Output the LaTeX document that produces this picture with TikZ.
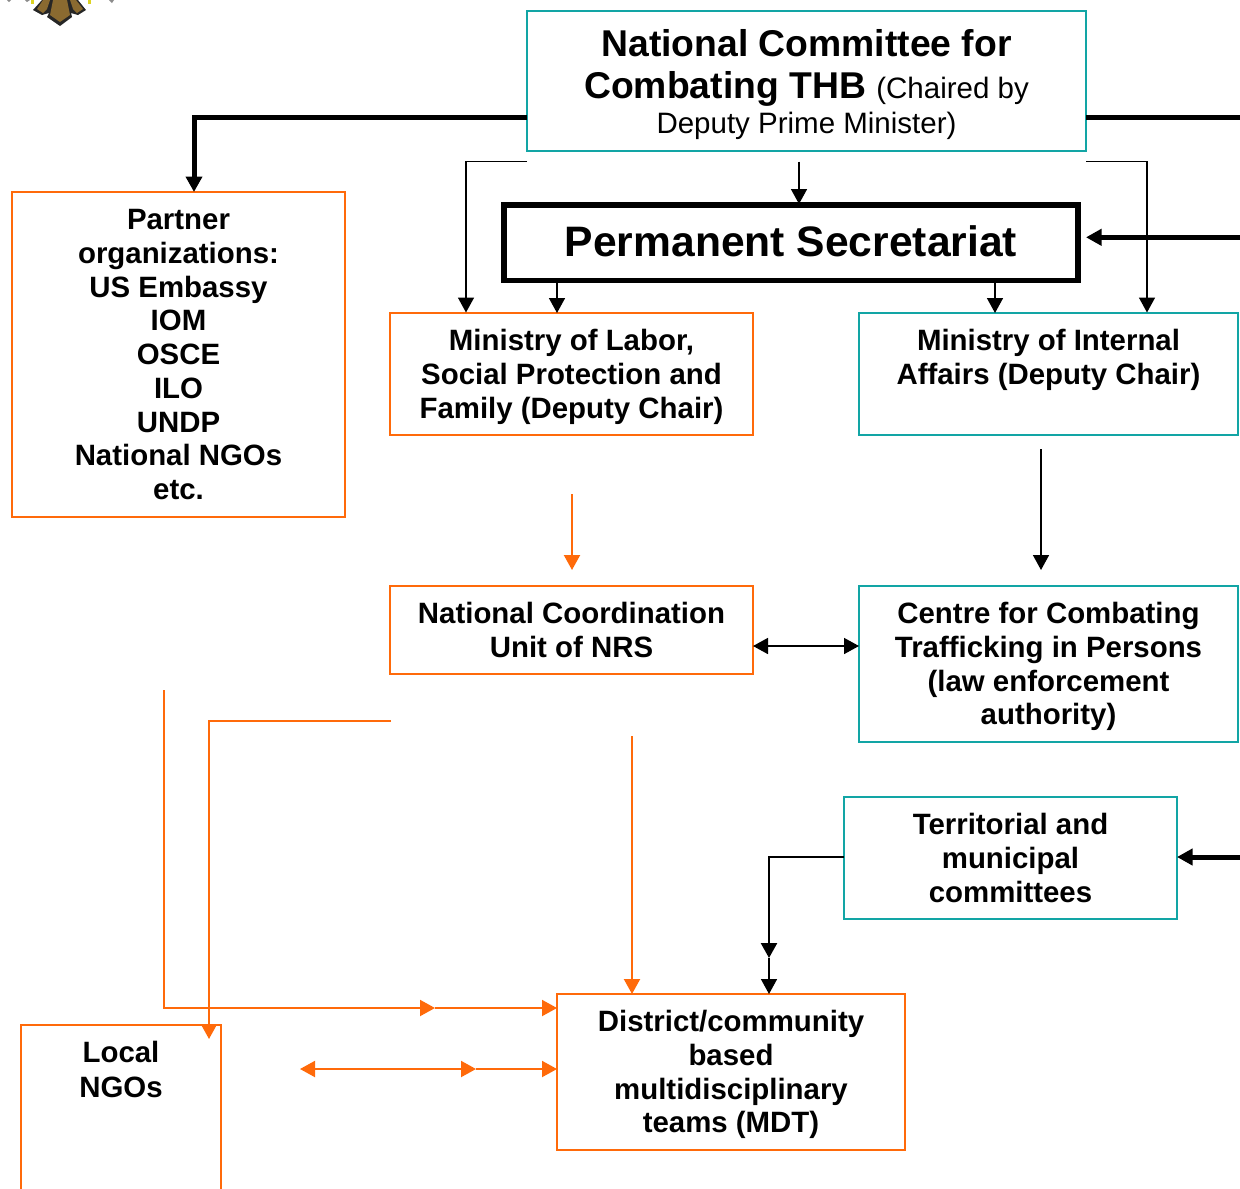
\documentclass[tikz,border=0pt]{standalone}
\usepackage{fontspec}
\setmainfont{Liberation Sans}
\usetikzlibrary{arrows.meta,calc}
\definecolor{teal1}{HTML}{12A5A5}
\definecolor{org}{HTML}{FF6A0A}
\definecolor{brownE}{HTML}{8A6A30}
\newcommand{\boxnode}[8]{% style, name, x0,y0,x1,y1, offset, text
  \pgfmathsetlengthmacro{\bw}{(#5-#3)*1pt}%
  \pgfmathsetlengthmacro{\bh}{(#6-#4)*1pt}%
  \node[#1,minimum width=\bw,minimum height=\bh] (#2) at ({(#3+#5)/2},{(#4+#6)/2})
    {\parbox[c][\bh][t]{\bw}{\centering\rule{0pt}{#7pt}#8\par}};%
}
\tikzset{
  x=1pt,y=-1pt,
  tealbox/.style={draw=teal1,line width=1.8pt,inner sep=0pt,outer sep=0pt},
  orgbox/.style={draw=org,line width=1.8pt,inner sep=0pt,outer sep=0pt},
  thin line/.style={draw=black,line width=1.6pt,-{Triangle[length=15pt,width=16pt]}},
  thick line/.style={draw=black,line width=5pt,-{Triangle[length=15.5pt,width=16pt]}},
  mid line/.style={draw=black,line width=2.4pt,-{Triangle[length=15pt,width=16pt]}},
  org line/.style={draw=org,line width=2.1pt,-{Triangle[length=15pt,width=16pt]}},
}
\newcommand{\bodyfont}{\fontsize{29.4}{33.7}\selectfont\bfseries}
\begin{document}
\begin{tikzpicture}
\useasboundingbox (0,0) rectangle (1240,1189);
\clip (0,0) rectangle (1240,1189);
% emblem fragment
\fill[black!85] (33,10) -- (42,0) -- (78,0) -- (86,10) -- (78,15) -- (71,13) -- (72,17) -- (60,26) -- (47,17) -- (49,13) -- (42,15) -- cycle;
\fill[brownE] (37,9) -- (43,0) -- (50,0) -- (47,9) -- (43,13) -- cycle;
\fill[brownE] (53,0) -- (67,0) -- (70,15) -- (60,22) -- (50,15) -- cycle;
\fill[brownE] (70,0) -- (76,0) -- (83,9) -- (77,13) -- (73,9) -- cycle;
\fill[yellow!85!black] (31,0) rectangle (34,4);
\fill[yellow!85!black] (88,0) rectangle (91,4);
\fill[black!45] (7,0) -- (11,0) -- (9,2) -- cycle;
\fill[black!45] (25,0) -- (30,0) -- (27,2) -- cycle;
\fill[black!45] (109,0) -- (114,0) -- (112,3) -- cycle;
% boxes
\boxnode{tealbox}{comm}{527}{11}{1086}{151}{45}{\fontsize{37.3}{42.5}\selectfont\bfseries National Committee for\\Combating THB {\fontsize{29.5}{35}\selectfont\mdseries (Chaired by}\\[-7.5pt]{\fontsize{29.5}{35}\selectfont\mdseries Deputy Prime Minister)}}
\node[draw=black,line width=5.5pt,inner sep=0pt,outer sep=0pt,minimum width=574pt,minimum height=75.5pt,text height=26.5pt,text depth=0pt,font=\fontsize{42.6}{50}\selectfont\bfseries] (sec) at (791,242.75) {Permanent Secretariat};
\boxnode{orgbox}{partner}{12}{192}{345}{517}{37.8}{\bodyfont Partner\\organizations:\\US Embassy\\IOM\\OSCE\\ILO\\UNDP\\National NGOs\\etc.}
\boxnode{orgbox}{labor}{390}{313}{753}{435}{37.8}{\bodyfont Ministry of Labor,\\Social Protection and\\Family (Deputy Chair)}
\boxnode{tealbox}{internal}{859}{313}{1238}{435}{37.8}{\bodyfont Ministry of Internal\\Affairs (Deputy Chair)}
\boxnode{orgbox}{ncu}{390}{586}{753}{674}{37.8}{\bodyfont National Coordination\\Unit of NRS}
\boxnode{tealbox}{centre}{859}{586}{1238}{742}{37.8}{\bodyfont Centre for Combating\\Trafficking in Persons\\(law enforcement\\authority)}
\boxnode{tealbox}{terr}{844}{797}{1177}{919}{37.8}{\bodyfont Territorial and\\municipal\\committees}
\boxnode{orgbox}{mdt}{557}{994}{905}{1150}{37.8}{\bodyfont District/community\\based\\multidisciplinary\\teams (MDT)}
\boxnode{orgbox}{ngos}{21}{1025}{221}{1300}{37.8}{\bodyfont Local\\[1pt]NGOs}
% free ends
\coordinate (rtop) at (1240,117);
\coordinate (rsec) at (1240,237.3);
\coordinate (rterr) at (1240,857);
\coordinate (slab) at (572,494);
\coordinate (sint) at (1041,449);
\coordinate (l1s) at (164,690);
\coordinate (l2s) at (391,721);
\coordinate (l3s) at (632,736);
\coordinate (l4s) at (300,1069);
\coordinate (ngoarrow) at (209,1039);
\coordinate (m1) at (435,1008);
\coordinate (m2) at (476,1069);
\coordinate (m3) at (769,958);
% black connectors
\path[thick line] ([yshift=-36pt]comm.west) -- ++(-333,0) -- ([xshift=15.5pt]partner.north);
\draw[line width=5pt] ([yshift=-36pt]comm.east) -- (rtop);
\path[thick line] (rsec) -- ([yshift=5.45pt,xshift=8pt]sec.east);
\path[thin line] ($(comm.south west)+(0,10.5)$) -- (466,161.5) -- (466,312.5);
\path[thin line] ($(comm.south)+(-7.5,10.5)$) -- ($(sec.north)+(8,-1)$);
\path[thin line] ($(comm.south east)+(0,10.5)$) -- (1147,161.5) -- (1147,312.5);
\path[thin line] ($(sec.south west)+(53,0)$) -- ($(labor.north)+(-14.5,0)$);
\path[thin line] ($(sec.south west)+(491,0)$) -- ($(internal.north)+(-53.5,0)$);
\path[thin line] (sint) -- (1041,570);
\path[thin line,{Triangle[length=15pt,width=16pt]}-{Triangle[length=15pt,width=16pt]}] ($(ncu.east)+(0,16)$) -- ($(centre.west)+(0,-18)$);
\path[mid line] ($(terr.west)+(0,-1)$) -- (769,857) -- (m3);
\path[thin line] (m3) -- ($(mdt.north)+(38,0)$);
\path[thick line] (rterr) -- ($(terr.east)+(0,-1)$);
% orange connectors
\path[org line] (slab) -- (572,570);
\path[org line] (l1s) -- (164,1008) -- (m1);
\path[org line] (m1) -- ($(mdt.north west)+(0,14)$);
\path[org line] (l2s) -- (209,721) -- (ngoarrow);
\path[org line] (l3s) -- ($(mdt.north west)+(75,0)$);
\path[org line,{Triangle[length=15pt,width=16pt]}-{Triangle[length=15pt,width=16pt]}] (l4s) -- (m2);
\path[org line] (m2) -- ($(mdt.west)+(0,-3)$);
\end{tikzpicture}
\end{document}
